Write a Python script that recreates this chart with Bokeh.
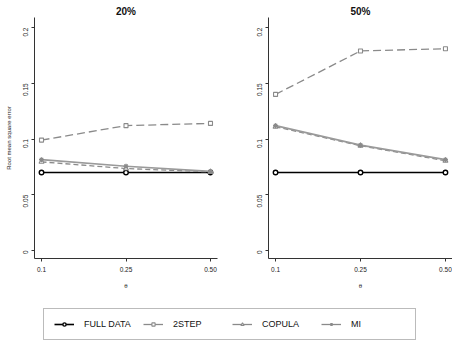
import math
from bokeh.plotting import figure
from bokeh.layouts import column, row
from bokeh.models import FixedTicker, Range1d, Legend, LegendItem, ColumnDataSource
from bokeh.embed import file_html
from bokeh.resources import INLINE

# theta levels (drawn at evenly spaced positions)
theta_labels = ["0.1", "0.25", "0.50"]
theta_pos = [1, 2, 3]

# RMSE, 20% missing
full_20 = [0.070, 0.070, 0.070]
twostep_20 = [0.099, 0.112, 0.114]
copula_20 = [0.0795, 0.0735, 0.0705]
mi_20 = [0.0815, 0.0755, 0.0710]

# RMSE, 50% missing
full_50 = [0.070, 0.070, 0.070]
twostep_50 = [0.140, 0.179, 0.181]
copula_50 = [0.111, 0.0940, 0.0805]
mi_50 = [0.112, 0.0945, 0.0815]

y_ticks = [0, 0.05, 0.1, 0.15, 0.2]
y_tick_labels = ["0", "0.05", "0.1", "0.15", "0.2"]

FONT = "Liberation Sans"
GREY = "#8a8a8a"
INK = "#222222"


def panel(title, full, twostep, copula, mi, left_border, right_border, show_ylabel):
    p = figure(width=226, height=300, output_backend="svg", toolbar_location=None,
               x_range=Range1d(0.917, 3.083), y_range=Range1d(-0.0072, 0.209),
               min_border_left=left_border, min_border_right=right_border,
               min_border_top=17, min_border_bottom=42)
    p.title.text = title
    p.title.align = "center"
    p.title.text_font = FONT
    p.title.text_font_size = "10px"
    p.title.text_font_style = "bold"
    p.title.text_color = "#111111"
    p.title.standoff = 1
    p.title.offset = 0
    p.outline_line_color = None
    p.grid.visible = False

    for ax in (p.xaxis[0], p.yaxis[0]):
        ax.axis_line_color = "#333333"
        ax.axis_line_width = 1
        ax.major_tick_line_color = "#333333"
        ax.minor_tick_line_color = None
        ax.major_tick_in = 0
        ax.major_tick_out = 3
        ax.major_label_text_font = FONT
        ax.major_label_text_font_size = "6.5px"
        ax.major_label_text_color = INK
        ax.axis_label_text_font = FONT
        ax.axis_label_text_font_size = "6px"
        ax.axis_label_text_font_style = "normal"
        ax.axis_label_text_color = INK

    p.xaxis.ticker = FixedTicker(ticks=theta_pos)
    p.xaxis.major_label_overrides = {t: l for t, l in zip(theta_pos, theta_labels)}
    p.xaxis.major_label_standoff = 5
    p.xaxis.axis_label = "θ"
    p.xaxis.axis_label_standoff = 8

    p.yaxis.ticker = FixedTicker(ticks=y_ticks)
    p.yaxis.major_label_overrides = {t: l for t, l in zip(y_ticks, y_tick_labels)}
    p.yaxis.major_label_orientation = math.pi / 2
    p.yaxis.major_label_standoff = 6
    if show_ylabel:
        p.yaxis.axis_label = "Root mean square error"
        p.yaxis.axis_label_standoff = 6

    # full data: black solid with open circles
    p.line(theta_pos, full, color="black", line_width=1.6)
    p.scatter(theta_pos, full, marker="circle", size=4.5, line_color="black",
              fill_color="white", line_width=1.4)
    # two-step: grey long dashes with open squares
    p.line(theta_pos, twostep, color=GREY, line_width=1.3, line_dash="8 4")
    p.scatter(theta_pos, twostep, marker="square", size=4, line_color=GREY,
              fill_color="white", line_width=1.1)
    # copula: grey dashes with triangles
    p.line(theta_pos, copula, color=GREY, line_width=1.3, line_dash="5 3")
    p.scatter(theta_pos, copula, marker="triangle", size=5, line_color=GREY,
              fill_color="white", line_width=1.1)
    # multiple imputation: grey solid with asterisks
    p.line(theta_pos, mi, color="#9a9a9a", line_width=1.6)
    p.scatter(theta_pos, mi, marker="asterisk", size=5, line_color=GREY, line_width=1.2)
    return p


p1 = panel("20%", full_20, twostep_20, copula_20, mi_20, 34, 9, True)
p2 = panel("50%", full_50, twostep_50, copula_50, mi_50, 42, 0, False)

# legend strip; the sample renderers sit outside the visible range
leg = figure(width=452, height=56, output_backend="svg", toolbar_location=None,
             min_border=0, x_range=Range1d(0, 1), y_range=Range1d(0, 1))
leg.axis.visible = False
leg.grid.visible = False
leg.outline_line_color = None
hidden = ColumnDataSource(data=dict(x=[-10, -9], y=[-10, -10]))
r_full = [leg.line("x", "y", source=hidden, color="black", line_width=1.6),
          leg.scatter("x", "y", source=hidden, marker="circle", size=4.5, line_color="black",
                      fill_color="white", line_width=1.4)]
r_two = [leg.line("x", "y", source=hidden, color=GREY, line_width=1.3),
         leg.scatter("x", "y", source=hidden, marker="square", size=4, line_color=GREY,
                     fill_color="white", line_width=1.1)]
r_cop = [leg.line("x", "y", source=hidden, color=GREY, line_width=1.3),
         leg.scatter("x", "y", source=hidden, marker="triangle", size=5, line_color=GREY,
                     fill_color="white", line_width=1.1)]
r_mi = [leg.line("x", "y", source=hidden, color=GREY, line_width=1.3),
        leg.scatter("x", "y", source=hidden, marker="asterisk", size=5, line_color=GREY,
                    line_width=1.2)]
legend = Legend(items=[LegendItem(label="FULL DATA", renderers=r_full, index=0),
                       LegendItem(label="2STEP", renderers=r_two, index=0),
                       LegendItem(label="COPULA", renderers=r_cop, index=0),
                       LegendItem(label="MI", renderers=r_mi, index=0)],
                orientation="horizontal", location=(43, 16),
                glyph_width=20, glyph_height=8, label_height=10, label_standoff=10,
                label_width=54, spacing=5, padding=10, margin=0,
                label_text_font=FONT, label_text_font_size="9px",
                label_text_color="#111111",
                border_line_color="#777777", border_line_width=1,
                background_fill_alpha=1)
leg.add_layout(legend, "center")

layout = column(row(p1, p2, spacing=0), leg, spacing=0)
open("out.html", "w").write(file_html(layout, INLINE))
